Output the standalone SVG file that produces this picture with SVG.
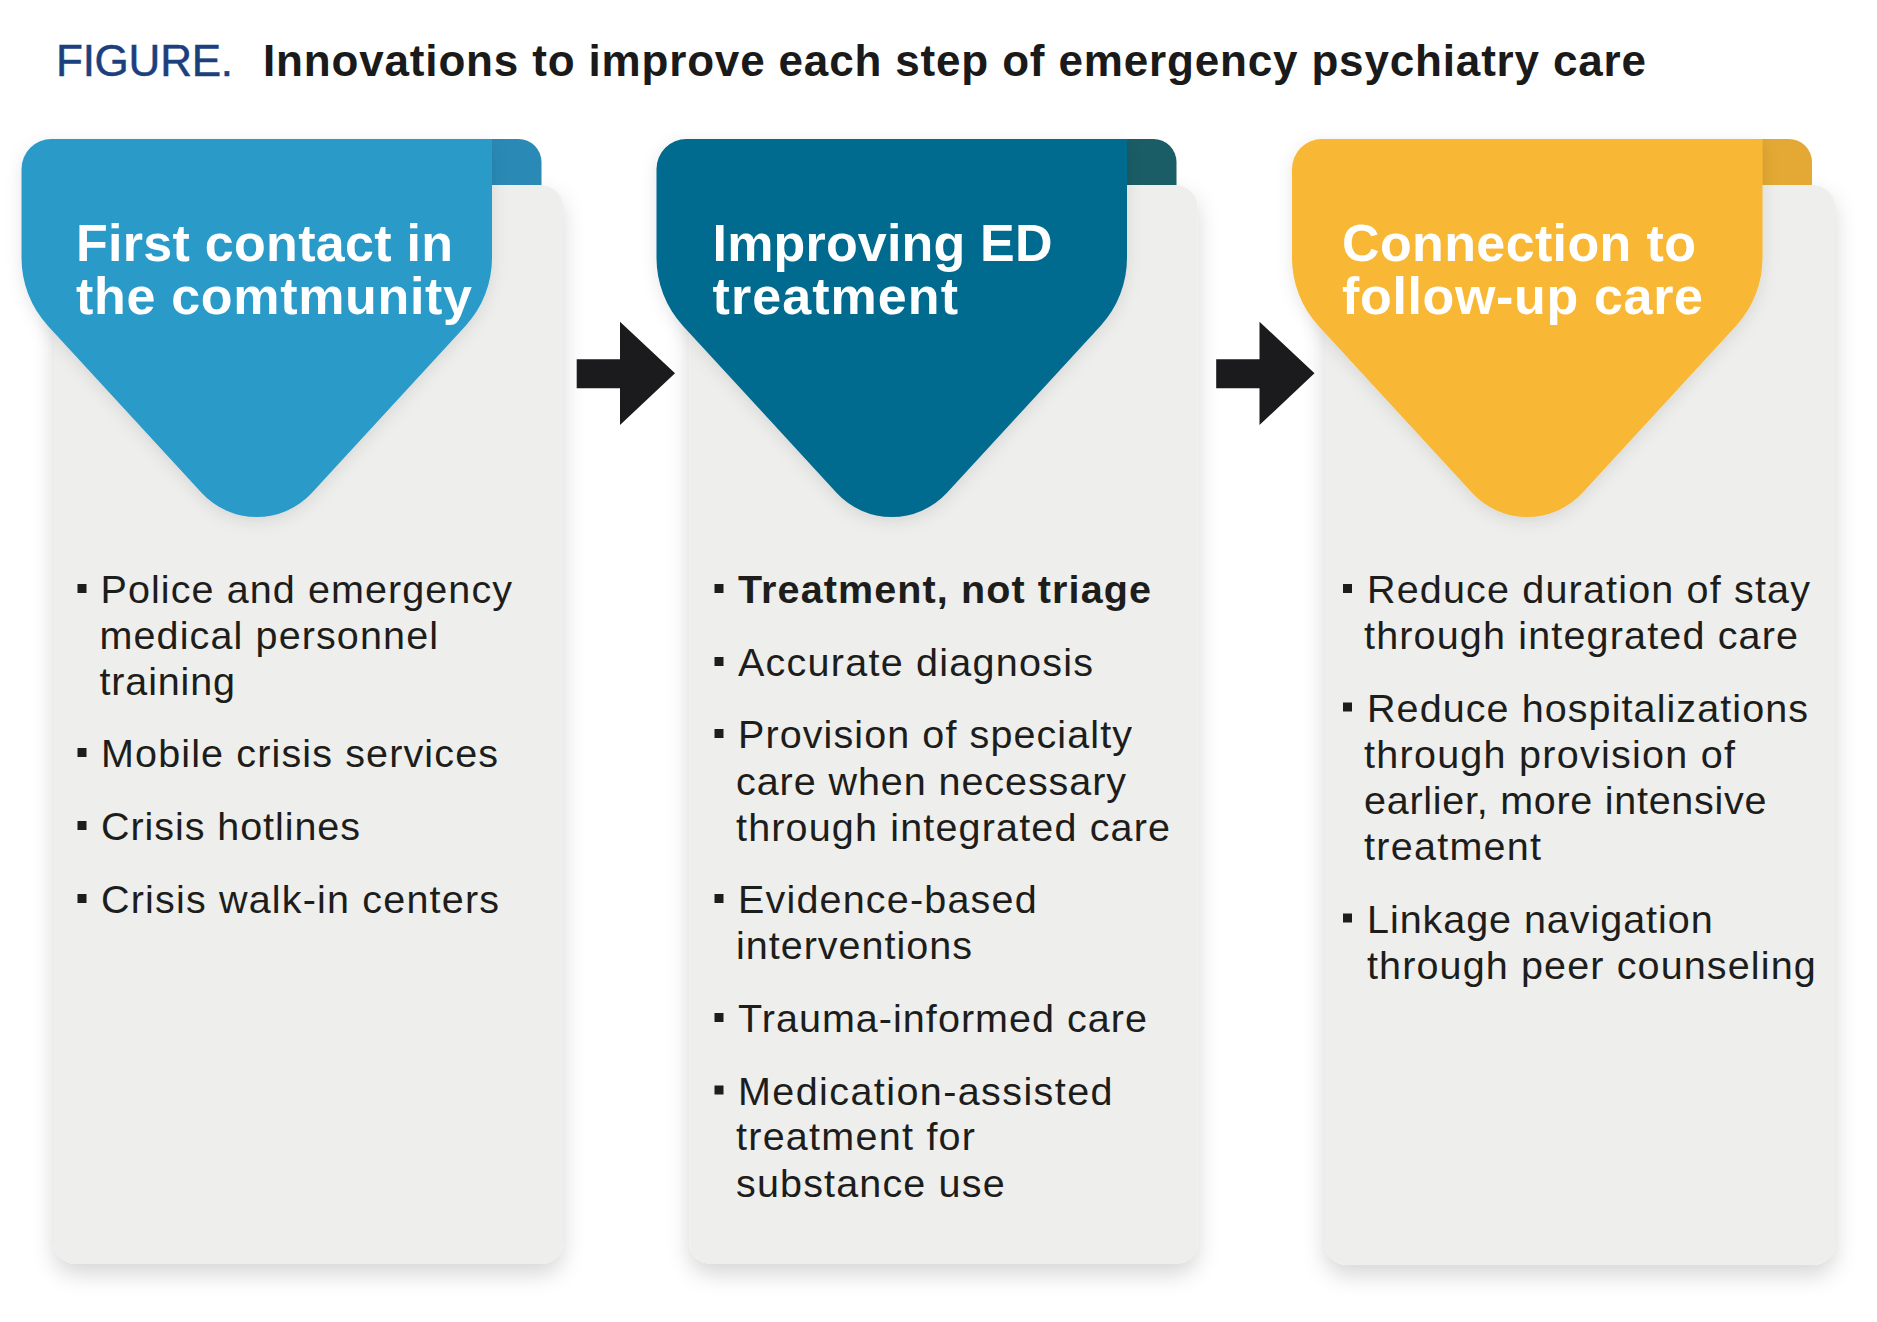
<svg xmlns="http://www.w3.org/2000/svg" width="1877" height="1322" viewBox="0 0 1877 1322">
<defs>
<filter id="cardShadow" x="-10%" y="-5%" width="120%" height="115%">
<feDropShadow dx="0" dy="10" stdDeviation="11" flood-color="#000" flood-opacity="0.16"/>
</filter>
<filter id="hdrShadow" x="-10%" y="-10%" width="120%" height="130%">
<feDropShadow dx="0" dy="4" stdDeviation="8" flood-color="#000" flood-opacity="0.10"/>
</filter>
<path id="hdrShape" d="M21.5,169 A30,30 0 0 1 51.5,139 L492,139 L492,258 A100,100 0 0 1 465.7,325.7 L312,492.7 A75,75 0 0 1 201.5,492.7 L47.8,325.7 A100,100 0 0 1 21.5,258 Z"/>
<path id="tabShape" d="M460,139 L518.5,139 A23,23 0 0 1 541.5,162 L541.5,185 L460,185 Z"/>
</defs>
<style>
.card{fill:#eeeeec;filter:url(#cardShadow);}
.hd{font-family:"Liberation Sans",Arial,sans-serif;font-weight:bold;font-size:52px;fill:#ffffff;}
.tx{font-family:"Liberation Sans",Arial,sans-serif;font-size:39.5px;fill:#1d1d1b;}
.b{font-weight:bold;}
.bul{fill:#1d1d1b;}
.arrow{fill:#1b1a1d;}
</style>
<rect width="1877" height="1322" fill="#ffffff"/>

<g id="title">
<text x="56" y="76" textLength="177" style="font-family:'Liberation Sans',Arial,sans-serif;font-size:44px;fill:#1c3f7e;stroke:#1c3f7e;stroke-width:0.5px">FIGURE.</text>
<text x="263" y="76" textLength="1383" style="font-family:'Liberation Sans',Arial,sans-serif;font-size:44px;font-weight:bold;fill:#1a1a1a">Innovations to improve each step of emergency psychiatry care</text>
</g>

<g id="node-1">
<rect class="card" x="54" y="185" width="509" height="1079" rx="22"/>
<use href="#tabShape" fill="#2a8ab5"/>
<use href="#hdrShape" fill="#2b9ac9" filter="url(#hdrShadow)"/>
<text class="hd" x="76" y="260.5" textLength="377">First contact in</text>
<text class="hd" x="76" y="314" textLength="396">the comtmunity</text>
<rect class="bul" x="77.5" y="584" width="9" height="9"/>
<text class="tx" x="100.5" y="603" textLength="411.5">Police and emergency</text>
<text class="tx" x="99.5" y="649" textLength="338.5">medical personnel</text>
<text class="tx" x="99.5" y="695" textLength="135.5">training</text>
<rect class="bul" x="77.5" y="748" width="9" height="9"/>
<text class="tx" x="101" y="767" textLength="397">Mobile crisis services</text>
<rect class="bul" x="77.5" y="821" width="9" height="9"/>
<text class="tx" x="101" y="840" textLength="259">Crisis hotlines</text>
<rect class="bul" x="77.5" y="894" width="9" height="9"/>
<text class="tx" x="101" y="913" textLength="398">Crisis walk-in centers</text>
</g>

<g id="node-2">
<rect class="card" x="689.5" y="185" width="508" height="1079" rx="22"/>
<use href="#tabShape" fill="#1a5d66" transform="translate(635,0)"/>
<use href="#hdrShape" fill="#016a8f" filter="url(#hdrShadow)" transform="translate(635,0)"/>
<text class="hd" x="712.5" y="260.5" textLength="340">Improving ED</text>
<text class="hd" x="712.5" y="314" textLength="245.5">treatment</text>
<rect class="bul" x="714.5" y="584" width="9" height="9"/>
<text class="tx b" x="738" y="603" textLength="413">Treatment, not triage</text>
<rect class="bul" x="714.5" y="657" width="9" height="9"/>
<text class="tx" x="738" y="676" textLength="355">Accurate diagnosis</text>
<rect class="bul" x="714.5" y="729" width="9" height="9"/>
<text class="tx" x="738" y="748" textLength="394">Provision of specialty</text>
<text class="tx" x="736" y="794.5" textLength="390">care when necessary</text>
<text class="tx" x="736" y="840.5" textLength="434">through integrated care</text>
<rect class="bul" x="714.5" y="894" width="9" height="9"/>
<text class="tx" x="738" y="913" textLength="298.6">Evidence-based</text>
<text class="tx" x="736" y="958.5" textLength="236">interventions</text>
<rect class="bul" x="714.5" y="1013" width="9" height="9"/>
<text class="tx" x="738" y="1032" textLength="409">Trauma-informed care</text>
<rect class="bul" x="714.5" y="1085.5" width="9" height="9"/>
<text class="tx" x="738" y="1104.5" textLength="374.5">Medication-assisted</text>
<text class="tx" x="736" y="1150" textLength="239">treatment for</text>
<text class="tx" x="736" y="1196.5" textLength="268.6">substance use</text>
</g>

<g id="node-3">
<rect class="card" x="1325" y="185" width="510" height="1080" rx="22"/>
<use href="#tabShape" fill="#e3a934" transform="translate(1270.5,0)"/>
<use href="#hdrShape" fill="#f8b734" filter="url(#hdrShadow)" transform="translate(1270.5,0)"/>
<text class="hd" x="1342" y="260.5" textLength="354">Connection to</text>
<text class="hd" x="1342" y="314" textLength="361">follow-up care</text>
<rect class="bul" x="1343" y="584" width="9" height="9"/>
<text class="tx" x="1367" y="603" textLength="443">Reduce duration of stay</text>
<text class="tx" x="1364" y="649" textLength="434">through integrated care</text>
<rect class="bul" x="1343" y="702.5" width="9" height="9"/>
<text class="tx" x="1367" y="721.5" textLength="441">Reduce hospitalizations</text>
<text class="tx" x="1364" y="767.5" textLength="371">through provision of</text>
<text class="tx" x="1364" y="814" textLength="402.5">earlier, more intensive</text>
<text class="tx" x="1364" y="860" textLength="177">treatment</text>
<rect class="bul" x="1343" y="913.5" width="9" height="9"/>
<text class="tx" x="1367" y="932.5" textLength="345.6">Linkage navigation</text>
<text class="tx" x="1367" y="978.5" textLength="448.7">through peer counseling</text>
</g>

<g id="connectors">
<path id="arrow-1-2" class="arrow" d="M576.7,359.3 H620 V321.7 L675,373.3 L620,425 V388.3 H576.7 Z"/>
<path id="arrow-2-3" class="arrow" d="M1216.2,359.3 H1259.5 V321.7 L1314.5,373.3 L1259.5,425 V388.3 H1216.2 Z"/>
</g>
</svg>
